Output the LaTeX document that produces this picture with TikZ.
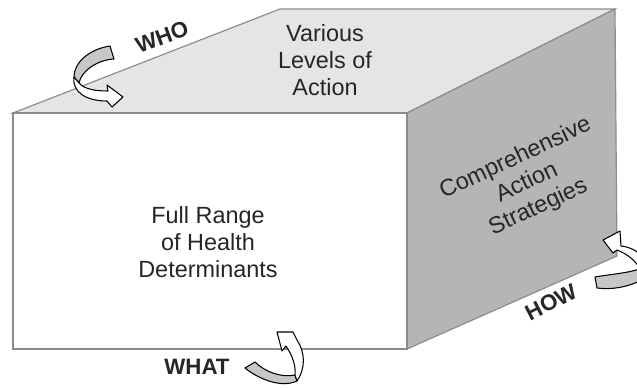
\documentclass[tikz,border=0pt]{standalone}
\usepackage{fontspec}
\setmainfont{Liberation Sans}
\definecolor{topface}{gray}{0.9}
\definecolor{sideface}{gray}{0.71}
\definecolor{edgegray}{gray}{0.55}
\definecolor{tailgray}{gray}{0.78}
\begin{document}
\begin{tikzpicture}[x=0.03cm,y=0.03cm,
  face/.style={draw=edgegray,line width=1pt},
  tailpart/.style={fill=tailgray,draw=black,line width=0.9pt,line join=round},
  headpart/.style={fill=white,draw=black,line width=0.9pt,line join=round},
  facetext/.style={font=\fontsize{20}{23}\selectfont,text=black!85,align=center,inner sep=0pt},
  dimlabel/.style={font=\fontsize{19}{22}\selectfont\bfseries,text=black!85,inner sep=0pt}]
\useasboundingbox (0,0) rectangle (637,-388);
\fill [white] (0,0) rectangle (637,-388);
\draw [face,fill=topface] (13,-113) -- (280,-9) -- (615,-9) -- (407,-113) -- cycle;
\draw [face,fill=sideface] (407,-113) -- (615,-9) -- (617,-256) -- (407,-349) -- cycle;
\draw [face,fill=white] (13,-113) rectangle (407,-349);
\node [facetext] (levels) at (325,-60) {Various\\Levels of\\Action};
\node [facetext] (range) at (208,-242) {Full Range\\of Health\\Determinants};
\node [facetext,rotate=25] (strategies) at (527,-183) {Comprehensive\\Action\\Strategies};
\node [dimlabel,rotate=20] (who) at (162,-37) {WHO};
\node [dimlabel] (what) at (197,-367) {WHAT};
\node [dimlabel,rotate=27] (how) at (551,-302) {HOW};
\draw [tailpart] (110,-46) .. controls (90,-49) and (74,-62) .. (74,-77) -- (79,-83) .. controls (81,-72) and (96,-60) .. (114,-59) -- cycle;
\draw [headpart] (74,-77) .. controls (72,-92) and (86,-101) .. (107,-101) -- (112,-107) -- (123,-97) -- (107,-85) -- (108,-91) .. controls (95,-91) and (84,-89) .. (79,-83) -- cycle;
\draw [tailpart] (245,-368) .. controls (260,-380) and (282,-388) .. (297,-381) -- (295,-375) .. controls (282,-378) and (265,-372) .. (255,-362) -- cycle;
\draw [headpart] (297,-381) .. controls (306,-368) and (305,-352) .. (297,-340) -- (293,-332) -- (277,-332) -- (282,-351) -- (286,-346) .. controls (292,-355) and (296,-365) .. (295,-375) -- cycle;
\draw [tailpart] (595,-277) -- (597,-288) .. controls (612,-290) and (628,-287) .. (642,-280) -- (642,-268) .. controls (630,-273) and (612,-274) .. cycle;
\draw [headpart] (603,-240) -- (620,-231) -- (621,-246) .. controls (630,-247) and (637,-251) .. (642,-256) -- (642,-272) .. controls (637,-262) and (628,-254) .. (617,-250) -- (613,-253) -- cycle;
\end{tikzpicture}
\end{document}
